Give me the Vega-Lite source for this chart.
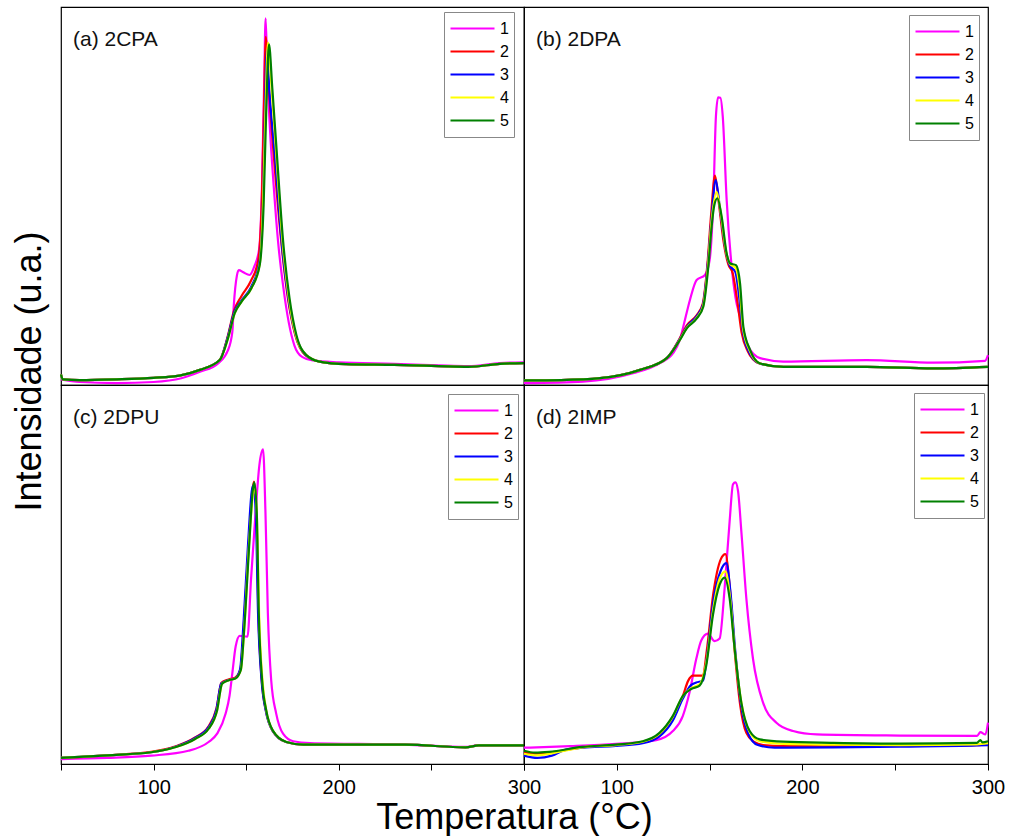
{
"$schema": "https://vega.github.io/schema/vega-lite/v6.json",
"background": "white",
"padding": {"left": 10, "top": 6, "right": 5, "bottom": 0},
"config": {
  "font": "Liberation Sans",
  "view": {"stroke": "#000", "strokeWidth": 1.2},
  "line": {"strokeWidth": 2.2, "interpolate": "monotone", "clip": true},
  "axis": {"grid": false, "domainColor": "#000", "tickColor": "#000", "labelColor": "#000", "titleColor": "#000", "labelFont": "Liberation Sans", "titleFont": "Liberation Sans", "titleFontWeight": "normal"},
  "legend": {"orient": "none", "title": null, "symbolType": "stroke", "symbolSize": 1936, "symbolStrokeWidth": 2.5, "labelFontSize": 16, "labelFont": "Liberation Sans", "labelColor": "#000", "labelOffset": 4, "padding": 5, "strokeColor": "#888", "fillColor": "white", "clipHeight": 23, "rowPadding": 0},
  "title": {"anchor": "start", "orient": "top", "offset": 0, "dx": 12, "dy": 47, "fontSize": 21, "fontWeight": "normal", "color": "#111", "font": "Liberation Sans", "baseline": "alphabetic", "frame": "group"}
},
"data": {"values": [
{"p":"a","s":"1","t":50,"v":1.5},{"p":"a","s":"1","t":60,"v":0.8},{"p":"a","s":"1","t":80,"v":0.5},{"p":"a","s":"1","t":100,"v":0.8},{"p":"a","s":"1","t":115,"v":1.8},{"p":"a","s":"1","t":125,"v":3.5},{"p":"a","s":"1","t":135,"v":5.8},{"p":"a","s":"1","t":140,"v":9.0},{"p":"a","s":"1","t":142.5,"v":14},{"p":"a","s":"1","t":143.3,"v":21},{"p":"a","s":"1","t":145,"v":29},{"p":"a","s":"1","t":146,"v":30.4},{"p":"a","s":"1","t":148.5,"v":29.8},{"p":"a","s":"1","t":151.8,"v":29.1},{"p":"a","s":"1","t":154.5,"v":31.5},{"p":"a","s":"1","t":157,"v":36},{"p":"a","s":"1","t":158.5,"v":52},{"p":"a","s":"1","t":159.7,"v":80},{"p":"a","s":"1","t":160.5,"v":97},{"p":"a","s":"1","t":161.3,"v":84},{"p":"a","s":"1","t":162.8,"v":68},{"p":"a","s":"1","t":164.8,"v":53},{"p":"a","s":"1","t":167.2,"v":38},{"p":"a","s":"1","t":170,"v":26},{"p":"a","s":"1","t":173,"v":16.5},{"p":"a","s":"1","t":176,"v":10.5},{"p":"a","s":"1","t":180,"v":7.5},{"p":"a","s":"1","t":186,"v":6.5},{"p":"a","s":"1","t":200,"v":6.0},{"p":"a","s":"1","t":230,"v":5.6},{"p":"a","s":"1","t":254,"v":5.2},{"p":"a","s":"1","t":270,"v":5.0},{"p":"a","s":"1","t":287,"v":5.8},{"p":"a","s":"1","t":300,"v":6.0},

{"p":"a","s":"2","t":50,"v":2.8},{"p":"a","s":"2","t":51,"v":1.5},{"p":"a","s":"2","t":60,"v":1.3},{"p":"a","s":"2","t":80,"v":1.5},{"p":"a","s":"2","t":100,"v":1.9},{"p":"a","s":"2","t":114,"v":2.5},{"p":"a","s":"2","t":125,"v":4.0},{"p":"a","s":"2","t":135.7,"v":6.6},{"p":"a","s":"2","t":140,"v":12.8},{"p":"a","s":"2","t":143.5,"v":19.8},{"p":"a","s":"2","t":147.4,"v":23.5},{"p":"a","s":"2","t":152.5,"v":27.5},{"p":"a","s":"2","t":156.5,"v":33},{"p":"a","s":"2","t":158.5,"v":50},{"p":"a","s":"2","t":159.8,"v":78},{"p":"a","s":"2","t":160.5,"v":92.1},{"p":"a","s":"2","t":162,"v":80},{"p":"a","s":"2","t":165,"v":60},{"p":"a","s":"2","t":168.5,"v":40},{"p":"a","s":"2","t":172.5,"v":23},{"p":"a","s":"2","t":176.5,"v":13.2},{"p":"a","s":"2","t":182,"v":7.9},{"p":"a","s":"2","t":189.6,"v":6.2},{"p":"a","s":"2","t":204,"v":5.5},{"p":"a","s":"2","t":230,"v":5.3},{"p":"a","s":"2","t":254,"v":5.0},{"p":"a","s":"2","t":270,"v":4.8},{"p":"a","s":"2","t":287,"v":5.6},{"p":"a","s":"2","t":300,"v":5.8},

{"p":"a","s":"3","t":50,"v":2.8},{"p":"a","s":"3","t":51,"v":1.5},{"p":"a","s":"3","t":60,"v":1.3},{"p":"a","s":"3","t":80,"v":1.5},{"p":"a","s":"3","t":100,"v":1.9},{"p":"a","s":"3","t":114,"v":2.5},{"p":"a","s":"3","t":125,"v":4.0},{"p":"a","s":"3","t":135.7,"v":6.6},{"p":"a","s":"3","t":140,"v":12.6},{"p":"a","s":"3","t":143.6,"v":19.4},{"p":"a","s":"3","t":147.4,"v":22.3},{"p":"a","s":"3","t":152.6,"v":25.9},{"p":"a","s":"3","t":157,"v":32},{"p":"a","s":"3","t":159,"v":48},{"p":"a","s":"3","t":160.3,"v":76},{"p":"a","s":"3","t":161,"v":88.5},{"p":"a","s":"3","t":162.6,"v":77},{"p":"a","s":"3","t":165.6,"v":60},{"p":"a","s":"3","t":169,"v":38.5},{"p":"a","s":"3","t":172.8,"v":22.8},{"p":"a","s":"3","t":176.7,"v":13.2},{"p":"a","s":"3","t":182.2,"v":7.9},{"p":"a","s":"3","t":189.6,"v":6.2},{"p":"a","s":"3","t":204,"v":5.5},{"p":"a","s":"3","t":230,"v":5.3},{"p":"a","s":"3","t":254,"v":5.0},{"p":"a","s":"3","t":270,"v":4.8},{"p":"a","s":"3","t":287,"v":5.6},{"p":"a","s":"3","t":300,"v":5.8},

{"p":"a","s":"4","t":50,"v":2.8},{"p":"a","s":"4","t":51,"v":1.5},{"p":"a","s":"4","t":60,"v":1.3},{"p":"a","s":"4","t":80,"v":1.5},{"p":"a","s":"4","t":100,"v":1.9},{"p":"a","s":"4","t":114,"v":2.5},{"p":"a","s":"4","t":125,"v":4.0},{"p":"a","s":"4","t":135.7,"v":6.6},{"p":"a","s":"4","t":140.2,"v":12.4},{"p":"a","s":"4","t":143.8,"v":19.0},{"p":"a","s":"4","t":147.4,"v":22.0},{"p":"a","s":"4","t":152.8,"v":25.6},{"p":"a","s":"4","t":157.2,"v":31.7},{"p":"a","s":"4","t":159.1,"v":48},{"p":"a","s":"4","t":160.5,"v":74},{"p":"a","s":"4","t":161.8,"v":90.6},{"p":"a","s":"4","t":163.8,"v":78},{"p":"a","s":"4","t":166.3,"v":60.5},{"p":"a","s":"4","t":169.5,"v":38.5},{"p":"a","s":"4","t":173.1,"v":22.8},{"p":"a","s":"4","t":176.8,"v":13.2},{"p":"a","s":"4","t":182.5,"v":7.9},{"p":"a","s":"4","t":189.6,"v":6.2},{"p":"a","s":"4","t":204,"v":5.5},{"p":"a","s":"4","t":230,"v":5.3},{"p":"a","s":"4","t":254,"v":5.0},{"p":"a","s":"4","t":270,"v":4.8},{"p":"a","s":"4","t":287,"v":5.6},{"p":"a","s":"4","t":300,"v":5.8},

{"p":"a","s":"5","t":50,"v":2.8},{"p":"a","s":"5","t":51,"v":1.5},{"p":"a","s":"5","t":60,"v":1.3},{"p":"a","s":"5","t":80,"v":1.5},{"p":"a","s":"5","t":100,"v":1.9},{"p":"a","s":"5","t":114,"v":2.5},{"p":"a","s":"5","t":125,"v":4.0},{"p":"a","s":"5","t":135.7,"v":6.6},{"p":"a","s":"5","t":140.2,"v":12.4},{"p":"a","s":"5","t":143.8,"v":19.0},{"p":"a","s":"5","t":147.4,"v":22.0},{"p":"a","s":"5","t":152.8,"v":25.6},{"p":"a","s":"5","t":157.3,"v":31.7},{"p":"a","s":"5","t":159.4,"v":47.6},{"p":"a","s":"5","t":160.9,"v":74.1},{"p":"a","s":"5","t":162.3,"v":90.1},{"p":"a","s":"5","t":164.1,"v":78.5},{"p":"a","s":"5","t":166.6,"v":60.8},{"p":"a","s":"5","t":169.8,"v":38.8},{"p":"a","s":"5","t":173.4,"v":22.9},{"p":"a","s":"5","t":177.1,"v":13.2},{"p":"a","s":"5","t":182.5,"v":7.9},{"p":"a","s":"5","t":189.6,"v":6.2},{"p":"a","s":"5","t":204,"v":5.5},{"p":"a","s":"5","t":230,"v":5.3},{"p":"a","s":"5","t":254,"v":5.0},{"p":"a","s":"5","t":270,"v":4.8},{"p":"a","s":"5","t":287,"v":5.6},{"p":"a","s":"5","t":300,"v":5.8},

{"p":"b","s":"1","t":50,"v":0.5},{"p":"b","s":"1","t":81.8,"v":0.9},{"p":"b","s":"1","t":108.7,"v":3.1},{"p":"b","s":"1","t":123.3,"v":5.8},{"p":"b","s":"1","t":130.3,"v":8.4},{"p":"b","s":"1","t":134,"v":12},{"p":"b","s":"1","t":136.7,"v":17.2},{"p":"b","s":"1","t":139.4,"v":22.5},{"p":"b","s":"1","t":143,"v":27.8},{"p":"b","s":"1","t":147.5,"v":29.1},{"p":"b","s":"1","t":150,"v":33},{"p":"b","s":"1","t":152,"v":48.9},{"p":"b","s":"1","t":153.4,"v":71},{"p":"b","s":"1","t":154.6,"v":76.1},{"p":"b","s":"1","t":155.8,"v":76},{"p":"b","s":"1","t":157.1,"v":71},{"p":"b","s":"1","t":159.2,"v":48.9},{"p":"b","s":"1","t":161.9,"v":31.3},{"p":"b","s":"1","t":164,"v":23},{"p":"b","s":"1","t":166.4,"v":18.1},{"p":"b","s":"1","t":170.9,"v":10.1},{"p":"b","s":"1","t":177.2,"v":7.1},{"p":"b","s":"1","t":189.7,"v":6.2},{"p":"b","s":"1","t":234.6,"v":6.6},{"p":"b","s":"1","t":270.5,"v":5.9},{"p":"b","s":"1","t":298.4,"v":6.4},{"p":"b","s":"1","t":300,"v":7.9},

{"p":"b","s":"2","t":50,"v":1.2},{"p":"b","s":"2","t":70,"v":1.3},{"p":"b","s":"2","t":91,"v":1.8},{"p":"b","s":"2","t":112.5,"v":4.0},{"p":"b","s":"2","t":126.9,"v":7.1},{"p":"b","s":"2","t":134,"v":12.4},{"p":"b","s":"2","t":137.7,"v":15.8},{"p":"b","s":"2","t":143.1,"v":18.5},{"p":"b","s":"2","t":146.3,"v":21.5},{"p":"b","s":"2","t":149,"v":33},{"p":"b","s":"2","t":150.8,"v":45},{"p":"b","s":"2","t":152.9,"v":55.4},{"p":"b","s":"2","t":155,"v":48},{"p":"b","s":"2","t":157.5,"v":38},{"p":"b","s":"2","t":160,"v":32},{"p":"b","s":"2","t":162.5,"v":29.5},{"p":"b","s":"2","t":165,"v":22},{"p":"b","s":"2","t":167.2,"v":14},{"p":"b","s":"2","t":170.5,"v":9},{"p":"b","s":"2","t":176.5,"v":5.8},{"p":"b","s":"2","t":189.7,"v":4.8},{"p":"b","s":"2","t":234.6,"v":4.8},{"p":"b","s":"2","t":270.5,"v":4.4},{"p":"b","s":"2","t":300,"v":4.8},

{"p":"b","s":"3","t":50,"v":1.2},{"p":"b","s":"3","t":70,"v":1.3},{"p":"b","s":"3","t":91,"v":1.8},{"p":"b","s":"3","t":112.5,"v":4.0},{"p":"b","s":"3","t":126.9,"v":7.1},{"p":"b","s":"3","t":134,"v":12.2},{"p":"b","s":"3","t":137.7,"v":15.4},{"p":"b","s":"3","t":143.1,"v":18.2},{"p":"b","s":"3","t":146.4,"v":21.2},{"p":"b","s":"3","t":149.1,"v":32.5},{"p":"b","s":"3","t":151,"v":44},{"p":"b","s":"3","t":153.3,"v":54.2},{"p":"b","s":"3","t":155.5,"v":47},{"p":"b","s":"3","t":158.5,"v":36},{"p":"b","s":"3","t":161,"v":31.5},{"p":"b","s":"3","t":163.8,"v":30},{"p":"b","s":"3","t":166,"v":23},{"p":"b","s":"3","t":167.8,"v":14.5},{"p":"b","s":"3","t":171,"v":9},{"p":"b","s":"3","t":177,"v":5.7},{"p":"b","s":"3","t":189.7,"v":4.8},{"p":"b","s":"3","t":234.6,"v":4.8},{"p":"b","s":"3","t":270.5,"v":4.4},{"p":"b","s":"3","t":300,"v":4.8},

{"p":"b","s":"4","t":50,"v":1.2},{"p":"b","s":"4","t":70,"v":1.3},{"p":"b","s":"4","t":91,"v":1.8},{"p":"b","s":"4","t":112.5,"v":4.0},{"p":"b","s":"4","t":126.9,"v":7.1},{"p":"b","s":"4","t":134,"v":12},{"p":"b","s":"4","t":137.7,"v":15.1},{"p":"b","s":"4","t":143.1,"v":17.8},{"p":"b","s":"4","t":146.5,"v":20.9},{"p":"b","s":"4","t":149.2,"v":32},{"p":"b","s":"4","t":151,"v":43},{"p":"b","s":"4","t":153.8,"v":51.1},{"p":"b","s":"4","t":156,"v":45.5},{"p":"b","s":"4","t":159,"v":35},{"p":"b","s":"4","t":161,"v":32},{"p":"b","s":"4","t":164,"v":31},{"p":"b","s":"4","t":166.2,"v":25.5},{"p":"b","s":"4","t":168,"v":15},{"p":"b","s":"4","t":171.5,"v":9.2},{"p":"b","s":"4","t":177.2,"v":5.7},{"p":"b","s":"4","t":189.7,"v":4.8},{"p":"b","s":"4","t":234.6,"v":4.8},{"p":"b","s":"4","t":270.5,"v":4.4},{"p":"b","s":"4","t":300,"v":4.8},

{"p":"b","s":"5","t":50,"v":1.2},{"p":"b","s":"5","t":70,"v":1.3},{"p":"b","s":"5","t":91,"v":1.8},{"p":"b","s":"5","t":112.5,"v":4.0},{"p":"b","s":"5","t":126.9,"v":7.1},{"p":"b","s":"5","t":134,"v":11.9},{"p":"b","s":"5","t":137.7,"v":15},{"p":"b","s":"5","t":143.1,"v":17.6},{"p":"b","s":"5","t":146.6,"v":20.7},{"p":"b","s":"5","t":149.3,"v":31.3},{"p":"b","s":"5","t":151.1,"v":41.9},{"p":"b","s":"5","t":152.5,"v":47.5},{"p":"b","s":"5","t":154.2,"v":49.4},{"p":"b","s":"5","t":156.5,"v":44.5},{"p":"b","s":"5","t":159.2,"v":34.8},{"p":"b","s":"5","t":161,"v":32.2},{"p":"b","s":"5","t":164.2,"v":31.7},{"p":"b","s":"5","t":166.4,"v":26.9},{"p":"b","s":"5","t":168.2,"v":15.4},{"p":"b","s":"5","t":171.8,"v":9.3},{"p":"b","s":"5","t":177.2,"v":5.7},{"p":"b","s":"5","t":189.7,"v":4.8},{"p":"b","s":"5","t":234.6,"v":4.8},{"p":"b","s":"5","t":270.5,"v":4.4},{"p":"b","s":"5","t":300,"v":4.8},

{"p":"c","s":"1","t":50,"v":1.3},{"p":"c","s":"1","t":75,"v":1.6},{"p":"c","s":"1","t":98.7,"v":2.2},{"p":"c","s":"1","t":118.8,"v":3.5},{"p":"c","s":"1","t":129.7,"v":5.8},{"p":"c","s":"1","t":134.3,"v":8.0},{"p":"c","s":"1","t":138.9,"v":13.3},{"p":"c","s":"1","t":141,"v":18},{"p":"c","s":"1","t":142.5,"v":23.9},{"p":"c","s":"1","t":144.3,"v":31.0},{"p":"c","s":"1","t":146.5,"v":33.8},{"p":"c","s":"1","t":150.7,"v":33.6},{"p":"c","s":"1","t":152.6,"v":48.7},{"p":"c","s":"1","t":155.3,"v":68.1},{"p":"c","s":"1","t":157.1,"v":78.8},{"p":"c","s":"1","t":159.1,"v":83.0},{"p":"c","s":"1","t":160.4,"v":66.4},{"p":"c","s":"1","t":161.7,"v":39.8},{"p":"c","s":"1","t":163.5,"v":22.1},{"p":"c","s":"1","t":166.2,"v":13.3},{"p":"c","s":"1","t":169.9,"v":8.0},{"p":"c","s":"1","t":175.4,"v":6.0},{"p":"c","s":"1","t":184.5,"v":5.5},{"p":"c","s":"1","t":235.6,"v":5.1},{"p":"c","s":"1","t":268.4,"v":4.5},{"p":"c","s":"1","t":275.7,"v":5.0},{"p":"c","s":"1","t":300,"v":5.0},

{"p":"c","s":"2","t":50,"v":1.6},{"p":"c","s":"2","t":75,"v":2.3},{"p":"c","s":"2","t":98.7,"v":3.2},{"p":"c","s":"2","t":111.5,"v":4.6},{"p":"c","s":"2","t":122.4,"v":7.0},{"p":"c","s":"2","t":129.5,"v":9.8},{"p":"c","s":"2","t":134,"v":14.8},{"p":"c","s":"2","t":136.6,"v":21.4},{"p":"c","s":"2","t":140.4,"v":22.3},{"p":"c","s":"2","t":144,"v":22.8},{"p":"c","s":"2","t":146.9,"v":25},{"p":"c","s":"2","t":148.6,"v":35.6},{"p":"c","s":"2","t":151.3,"v":57.5},{"p":"c","s":"2","t":153.3,"v":72},{"p":"c","s":"2","t":154.2,"v":74.5},{"p":"c","s":"2","t":155.5,"v":66.4},{"p":"c","s":"2","t":156.6,"v":39.8},{"p":"c","s":"2","t":158.4,"v":22.1},{"p":"c","s":"2","t":160.6,"v":14.2},{"p":"c","s":"2","t":164.2,"v":8.8},{"p":"c","s":"2","t":171.5,"v":5.8},{"p":"c","s":"2","t":180.8,"v":5.1},{"p":"c","s":"2","t":235.6,"v":5.1},{"p":"c","s":"2","t":268.4,"v":4.4},{"p":"c","s":"2","t":275.7,"v":4.9},{"p":"c","s":"2","t":300,"v":4.9},

{"p":"c","s":"3","t":50,"v":1.6},{"p":"c","s":"3","t":75,"v":2.3},{"p":"c","s":"3","t":98.7,"v":3.1},{"p":"c","s":"3","t":111.5,"v":4.5},{"p":"c","s":"3","t":122.4,"v":6.9},{"p":"c","s":"3","t":129.5,"v":9.6},{"p":"c","s":"3","t":134,"v":14.6},{"p":"c","s":"3","t":136.5,"v":21.2},{"p":"c","s":"3","t":140.2,"v":22.1},{"p":"c","s":"3","t":144,"v":22.6},{"p":"c","s":"3","t":146.7,"v":25},{"p":"c","s":"3","t":148.4,"v":36},{"p":"c","s":"3","t":151,"v":58},{"p":"c","s":"3","t":153,"v":72},{"p":"c","s":"3","t":153.9,"v":73.5},{"p":"c","s":"3","t":155.2,"v":66},{"p":"c","s":"3","t":156.4,"v":39.8},{"p":"c","s":"3","t":158.3,"v":22.1},{"p":"c","s":"3","t":160.5,"v":14.2},{"p":"c","s":"3","t":164.2,"v":8.8},{"p":"c","s":"3","t":171.5,"v":5.8},{"p":"c","s":"3","t":180.8,"v":5.1},{"p":"c","s":"3","t":235.6,"v":5.1},{"p":"c","s":"3","t":268.4,"v":4.4},{"p":"c","s":"3","t":275.7,"v":4.9},{"p":"c","s":"3","t":300,"v":4.9},

{"p":"c","s":"4","t":50,"v":1.6},{"p":"c","s":"4","t":75,"v":2.3},{"p":"c","s":"4","t":98.7,"v":3.1},{"p":"c","s":"4","t":111.5,"v":4.4},{"p":"c","s":"4","t":122.4,"v":6.6},{"p":"c","s":"4","t":129.7,"v":9.3},{"p":"c","s":"4","t":134.3,"v":14.2},{"p":"c","s":"4","t":137,"v":21.2},{"p":"c","s":"4","t":140.7,"v":22.1},{"p":"c","s":"4","t":144.3,"v":22.6},{"p":"c","s":"4","t":147.1,"v":24.8},{"p":"c","s":"4","t":148.9,"v":35.4},{"p":"c","s":"4","t":151.4,"v":57},{"p":"c","s":"4","t":153.6,"v":71},{"p":"c","s":"4","t":154.6,"v":73},{"p":"c","s":"4","t":155.8,"v":65},{"p":"c","s":"4","t":157,"v":39},{"p":"c","s":"4","t":158.8,"v":22},{"p":"c","s":"4","t":160.8,"v":14.2},{"p":"c","s":"4","t":164.4,"v":8.8},{"p":"c","s":"4","t":171.7,"v":5.8},{"p":"c","s":"4","t":180.8,"v":5.1},{"p":"c","s":"4","t":235.6,"v":5.1},{"p":"c","s":"4","t":268.4,"v":4.4},{"p":"c","s":"4","t":275.7,"v":4.9},{"p":"c","s":"4","t":300,"v":4.9},

{"p":"c","s":"5","t":50,"v":1.6},{"p":"c","s":"5","t":75,"v":2.3},{"p":"c","s":"5","t":98.7,"v":3.1},{"p":"c","s":"5","t":111.5,"v":4.4},{"p":"c","s":"5","t":122.4,"v":6.6},{"p":"c","s":"5","t":129.7,"v":9.3},{"p":"c","s":"5","t":134.3,"v":14.2},{"p":"c","s":"5","t":137,"v":21.2},{"p":"c","s":"5","t":140.7,"v":22.1},{"p":"c","s":"5","t":144.3,"v":22.6},{"p":"c","s":"5","t":147.1,"v":24.8},{"p":"c","s":"5","t":148.9,"v":35.4},{"p":"c","s":"5","t":151.6,"v":57.5},{"p":"c","s":"5","t":153.5,"v":72},{"p":"c","s":"5","t":154.4,"v":74.3},{"p":"c","s":"5","t":155.7,"v":66.4},{"p":"c","s":"5","t":156.8,"v":39.8},{"p":"c","s":"5","t":158.6,"v":22.1},{"p":"c","s":"5","t":160.8,"v":14.2},{"p":"c","s":"5","t":164.4,"v":8.8},{"p":"c","s":"5","t":171.7,"v":5.8},{"p":"c","s":"5","t":180.8,"v":5.1},{"p":"c","s":"5","t":235.6,"v":5.1},{"p":"c","s":"5","t":268.4,"v":4.4},{"p":"c","s":"5","t":275.7,"v":4.9},{"p":"c","s":"5","t":300,"v":4.9},

{"p":"d","s":"1","t":50,"v":4.3},{"p":"d","s":"1","t":75,"v":4.7},{"p":"d","s":"1","t":99.5,"v":5.3},{"p":"d","s":"1","t":121.2,"v":6.3},{"p":"d","s":"1","t":130.2,"v":8.7},{"p":"d","s":"1","t":135.6,"v":12.7},{"p":"d","s":"1","t":139.2,"v":18.9},{"p":"d","s":"1","t":142.8,"v":27.7},{"p":"d","s":"1","t":145.5,"v":32.6},{"p":"d","s":"1","t":149.1,"v":34.4},{"p":"d","s":"1","t":152.7,"v":32.4},{"p":"d","s":"1","t":155.4,"v":33.1},{"p":"d","s":"1","t":158.1,"v":46.4},{"p":"d","s":"1","t":160.8,"v":64.1},{"p":"d","s":"1","t":162.6,"v":73.8},{"p":"d","s":"1","t":163.9,"v":74.3},{"p":"d","s":"1","t":165.3,"v":72.1},{"p":"d","s":"1","t":167.1,"v":61.4},{"p":"d","s":"1","t":169.8,"v":43.7},{"p":"d","s":"1","t":173.4,"v":27.7},{"p":"d","s":"1","t":178.8,"v":16.2},{"p":"d","s":"1","t":186,"v":10.9},{"p":"d","s":"1","t":195,"v":8.7},{"p":"d","s":"1","t":207.7,"v":7.8},{"p":"d","s":"1","t":252.7,"v":7.5},{"p":"d","s":"1","t":294.1,"v":7.4},{"p":"d","s":"1","t":295.9,"v":8.4},{"p":"d","s":"1","t":298.6,"v":7.8},{"p":"d","s":"1","t":300,"v":10.9},

{"p":"d","s":"2","t":50,"v":3.0},{"p":"d","s":"2","t":57,"v":2.7},{"p":"d","s":"2","t":70,"v":3.5},{"p":"d","s":"2","t":81.5,"v":4.4},{"p":"d","s":"2","t":99.5,"v":5.0},{"p":"d","s":"2","t":114,"v":5.8},{"p":"d","s":"2","t":123,"v":7.8},{"p":"d","s":"2","t":130.2,"v":12.2},{"p":"d","s":"2","t":135.6,"v":18.0},{"p":"d","s":"2","t":138.5,"v":22},{"p":"d","s":"2","t":141,"v":23.3},{"p":"d","s":"2","t":146.4,"v":23.3},{"p":"d","s":"2","t":148.5,"v":30},{"p":"d","s":"2","t":152,"v":45},{"p":"d","s":"2","t":156,"v":54},{"p":"d","s":"2","t":158.5,"v":55.4},{"p":"d","s":"2","t":161,"v":46},{"p":"d","s":"2","t":163.5,"v":30},{"p":"d","s":"2","t":166.5,"v":15.5},{"p":"d","s":"2","t":169.8,"v":8.2},{"p":"d","s":"2","t":174,"v":5.8},{"p":"d","s":"2","t":178.8,"v":5.0},{"p":"d","s":"2","t":189.6,"v":4.7},{"p":"d","s":"2","t":216.7,"v":4.7},{"p":"d","s":"2","t":252.7,"v":4.8},{"p":"d","s":"2","t":294,"v":5.0},{"p":"d","s":"2","t":300,"v":5.2},

{"p":"d","s":"3","t":50,"v":2.2},{"p":"d","s":"3","t":57.2,"v":1.6},{"p":"d","s":"3","t":65,"v":2.2},{"p":"d","s":"3","t":72.5,"v":3.8},{"p":"d","s":"3","t":81.5,"v":4.3},{"p":"d","s":"3","t":99.5,"v":4.8},{"p":"d","s":"3","t":114,"v":5.5},{"p":"d","s":"3","t":123,"v":7.3},{"p":"d","s":"3","t":130.2,"v":11.5},{"p":"d","s":"3","t":135.6,"v":17.3},{"p":"d","s":"3","t":140,"v":20.8},{"p":"d","s":"3","t":142.8,"v":21.5},{"p":"d","s":"3","t":146.5,"v":22},{"p":"d","s":"3","t":148.5,"v":28},{"p":"d","s":"3","t":152,"v":43},{"p":"d","s":"3","t":156,"v":51},{"p":"d","s":"3","t":159,"v":53},{"p":"d","s":"3","t":161.3,"v":45},{"p":"d","s":"3","t":163.8,"v":30},{"p":"d","s":"3","t":167,"v":15.5},{"p":"d","s":"3","t":171,"v":7.8},{"p":"d","s":"3","t":176,"v":5.0},{"p":"d","s":"3","t":185,"v":4.3},{"p":"d","s":"3","t":216.7,"v":4.4},{"p":"d","s":"3","t":252.7,"v":4.6},{"p":"d","s":"3","t":294,"v":4.9},{"p":"d","s":"3","t":300,"v":5.0},

{"p":"d","s":"4","t":50,"v":2.7},{"p":"d","s":"4","t":57,"v":2.3},{"p":"d","s":"4","t":70,"v":3.3},{"p":"d","s":"4","t":81.5,"v":4.4},{"p":"d","s":"4","t":99.5,"v":5.0},{"p":"d","s":"4","t":114,"v":5.9},{"p":"d","s":"4","t":123,"v":8.0},{"p":"d","s":"4","t":130.2,"v":12.5},{"p":"d","s":"4","t":135.6,"v":17.9},{"p":"d","s":"4","t":140.1,"v":20},{"p":"d","s":"4","t":144.6,"v":21},{"p":"d","s":"4","t":148.3,"v":27},{"p":"d","s":"4","t":152,"v":41},{"p":"d","s":"4","t":155.5,"v":49},{"p":"d","s":"4","t":158.5,"v":50.8},{"p":"d","s":"4","t":161,"v":44},{"p":"d","s":"4","t":163.6,"v":30},{"p":"d","s":"4","t":167.2,"v":16},{"p":"d","s":"4","t":171.5,"v":8.5},{"p":"d","s":"4","t":177,"v":6.0},{"p":"d","s":"4","t":189.6,"v":5.3},{"p":"d","s":"4","t":216.7,"v":5.1},{"p":"d","s":"4","t":252.7,"v":5.0},{"p":"d","s":"4","t":294,"v":5.2},{"p":"d","s":"4","t":300,"v":5.5},

{"p":"d","s":"5","t":50,"v":3.5},{"p":"d","s":"5","t":56,"v":3.0},{"p":"d","s":"5","t":63.5,"v":3.2},{"p":"d","s":"5","t":81.5,"v":4.5},{"p":"d","s":"5","t":99.5,"v":5.1},{"p":"d","s":"5","t":114,"v":6.0},{"p":"d","s":"5","t":123,"v":8.2},{"p":"d","s":"5","t":130.2,"v":12.7},{"p":"d","s":"5","t":135.6,"v":18.0},{"p":"d","s":"5","t":140.1,"v":19.8},{"p":"d","s":"5","t":144.6,"v":20.7},{"p":"d","s":"5","t":148.2,"v":26.0},{"p":"d","s":"5","t":151.8,"v":39.3},{"p":"d","s":"5","t":155.4,"v":47.3},{"p":"d","s":"5","t":158.1,"v":49.2},{"p":"d","s":"5","t":160.8,"v":43.7},{"p":"d","s":"5","t":163.5,"v":30.4},{"p":"d","s":"5","t":167.1,"v":16.2},{"p":"d","s":"5","t":171.6,"v":8.7},{"p":"d","s":"5","t":177,"v":6.5},{"p":"d","s":"5","t":189.6,"v":5.9},{"p":"d","s":"5","t":216.7,"v":5.6},{"p":"d","s":"5","t":252.7,"v":5.4},{"p":"d","s":"5","t":294,"v":5.6},{"p":"d","s":"5","t":295.9,"v":6.3},{"p":"d","s":"5","t":297,"v":5.7},{"p":"d","s":"5","t":300,"v":6.0}
]},
"columns": 2,
"spacing": 0,
"bounds": "flush",
"resolve": {"scale": {"color": "independent"}, "legend": {"color": "independent"}},
"concat": [
  {"width": 463, "height": 378,
   "title": {"text": "(a) 2CPA"},
   "transform": [{"filter": {"field": "p", "equal": "a"}}],
   "mark": {"type": "line"},
   "encoding": {
     "x": {"field": "t", "type": "quantitative", "scale": {"domain": [50, 300], "nice": false, "zero": false}, "axis": null},
     "y": {"field": "v", "type": "quantitative", "scale": {"domain": [0, 100], "nice": false}, "axis": {"title": "Intensidade (u.a.)", "labels": false, "ticks": false, "domain": false, "titleFontSize": 36, "titleY": 364, "titlePadding": 21, "titleBaseline": "alphabetic", "titleAlign": "center"}},
     "color": {"field": "s", "type": "nominal", "scale": {"domain": ["1","2","3","4","5"], "range": ["#FF00FF","#FF0000","#0000FF","#FFFF00","#008000"]}, "legend": {"legendX": 383, "legendY": 5}}
   }},
  {"width": 464, "height": 378,
   "title": {"text": "(b) 2DPA"},
   "transform": [{"filter": {"field": "p", "equal": "b"}}],
   "mark": {"type": "line"},
   "encoding": {
     "x": {"field": "t", "type": "quantitative", "scale": {"domain": [50, 300], "nice": false, "zero": false}, "axis": null},
     "y": {"field": "v", "type": "quantitative", "scale": {"domain": [0, 100], "nice": false}, "axis": null},
     "color": {"field": "s", "type": "nominal", "scale": {"domain": ["1","2","3","4","5"], "range": ["#FF00FF","#FF0000","#0000FF","#FFFF00","#008000"]}, "legend": {"legendX": 385, "legendY": 8}}
   }},
  {"width": 463, "height": 379,
   "title": {"text": "(c) 2DPU"},
   "transform": [{"filter": {"field": "p", "equal": "c"}}],
   "mark": {"type": "line"},
   "encoding": {
     "x": {"field": "t", "type": "quantitative", "scale": {"domain": [50, 300], "nice": false, "zero": false}, "axis": {"values": [50,100,150,200,250,300], "labelExpr": "datum.value % 100 == 0 ? datum.label : ''", "tickSize": 6, "labelFontSize": 20, "labelPadding": 7, "labelFlush": false, "labelOverlap": false, "title": "Temperatura (°C)", "titleFontSize": 36, "titleX": 453, "titleY": 64, "titleBaseline": "alphabetic", "titleAlign": "center", "titleAnchor": null}},
     "y": {"field": "v", "type": "quantitative", "scale": {"domain": [0, 100], "nice": false}, "axis": null},
     "color": {"field": "s", "type": "nominal", "scale": {"domain": ["1","2","3","4","5"], "range": ["#FF00FF","#FF0000","#0000FF","#FFFF00","#008000"]}, "legend": {"legendX": 387, "legendY": 9}}
   }},
  {"width": 464, "height": 379,
   "title": {"text": "(d) 2IMP"},
   "transform": [{"filter": {"field": "p", "equal": "d"}}],
   "mark": {"type": "line"},
   "encoding": {
     "x": {"field": "t", "type": "quantitative", "scale": {"domain": [50, 300], "nice": false, "zero": false}, "axis": {"values": [50,100,150,200,250,300], "labelExpr": "datum.value >= 100 && datum.value % 100 == 0 ? datum.label : ''", "tickSize": 6, "labelFontSize": 20, "labelPadding": 7, "labelFlush": false, "labelOverlap": false, "title": null}},
     "y": {"field": "v", "type": "quantitative", "scale": {"domain": [0, 100], "nice": false}, "axis": null},
     "color": {"field": "s", "type": "nominal", "scale": {"domain": ["1","2","3","4","5"], "range": ["#FF00FF","#FF0000","#0000FF","#FFFF00","#008000"]}, "legend": {"legendX": 390, "legendY": 8}}
   }}
]
}
